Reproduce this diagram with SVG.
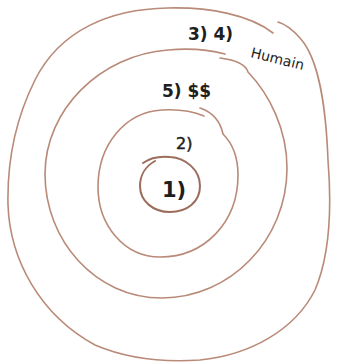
<svg xmlns="http://www.w3.org/2000/svg" width="337" height="363" viewBox="0 0 337 363">
<style>
.ring{fill:none;stroke:#b98a78;stroke-width:1.6;stroke-linecap:round;stroke-linejoin:round}
.inner{fill:none;stroke:#9c6d5c;stroke-width:2;stroke-linecap:round}
.hand{font-family:"DejaVu Sans","Liberation Sans",sans-serif;fill:#1e1e1e}
.b{font-weight:bold}
</style>
<rect width="337" height="363" fill="#ffffff"/>
<g id="ring-outer">
<path class="ring" d="M273,33 C250,15 210,7 168,8 C110,9 60,30 35,80 C15,120 7,160 8,205 C10,260 40,315 95,345 C130,360 170,362 200,360 C250,355 295,330 315,290 C330,255 332,210 328,160 C326,110 320,60 300,38 C292,29 285,24 278,22"/>
</g>
<g id="ring-3">
<path class="ring" d="M220,58 C236,60 246,65 248,72 C270,95 287,130 287,168 C287,240 230,298 162,298 C95,298 45,240 45,174 C45,110 100,55 168,50 C190,48 210,50 225,54"/>
</g>
<g id="ring-2">
<path class="ring" d="M200,108 C212,112 220,120 223,134 C234,145 238,158 238,175 C238,222 205,257 160,257 C124,257 98,225 98,187 C98,145 125,112 162,110 C178,109 192,111 204,116"/>
</g>
<g id="ring-1">
<path class="inner" d="M143,163 C150,158 160,156 170,157 C186,158 200,170 200,186 C200,202 187,212 170,212 C153,212 140,201 140,186 C140,175 146,166 155,161"/>
</g>
<g id="labels">
<text class="hand b" x="188" y="40" font-size="17">3) 4)</text>
<text class="hand" x="250" y="57" font-size="14" transform="rotate(14 250 57)">Humain</text>
<text class="hand b" x="162" y="97" font-size="17">5) $$</text>
<text class="hand" x="176" y="149" font-size="16" stroke="#1e1e1e" stroke-width="0.5">2)</text>
<text class="hand b" x="162" y="197" font-size="21">1)</text>
</g>
</svg>
